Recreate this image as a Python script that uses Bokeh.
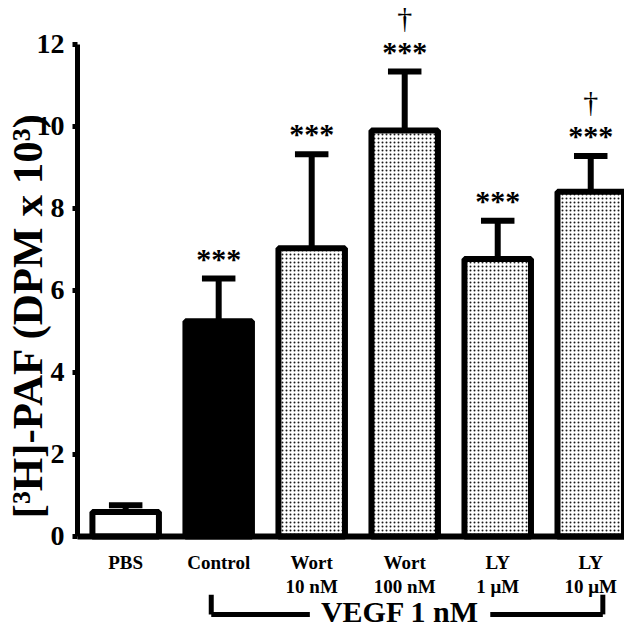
from bokeh.plotting import figure
from bokeh.models import LinearAxis, FixedTicker, Range1d
from bokeh.core.properties import value
from bokeh.embed import file_html
from bokeh.resources import INLINE

# ---- data ----
categories = ["PBS", "Control", "Wort\n10 nM", "Wort\n100 nM", "LY\n1 \u03bcM", "LY\n10 \u03bcM"]
means = [0.60, 5.25, 7.03, 9.90, 6.77, 8.41]
sems = [0.16, 1.04, 2.29, 1.44, 0.93, 0.87]
stars = ["", "***", "***", "***", "***", "***"]
daggers = ["", "", "", "\u2020", "", "\u2020"]
fills = ["white", "black", "dots", "dots", "dots", "dots"]
y_ticks = [0, 2, 4, 6, 8, 10, 12]
group_label = "VEGF 1 nM"
y_label = "[\u00b3H]-PAF (DPM x 10\u00b3)"

FONT = "Liberation Serif"
xs = list(range(len(categories)))

p = figure(width=624, height=630, output_backend="svg", toolbar_location=None,
           x_axis_type=None, y_axis_type=None,
           x_range=Range1d(-0.518, 5.363), y_range=Range1d(-2.293, 13.073),
           min_border=0, min_border_left=73)
p.outline_line_color = None
p.xgrid.visible = False
p.ygrid.visible = False
p.background_fill_color = "white"
p.border_fill_color = "white"

yaxis = LinearAxis(bounds=(0, 12), ticker=FixedTicker(ticks=y_ticks))
yaxis.axis_line_width = 5
yaxis.axis_line_color = "black"
yaxis.major_tick_line_width = 5
yaxis.major_tick_line_color = "black"
yaxis.major_tick_out = 5
yaxis.major_tick_in = 0
yaxis.minor_tick_line_color = None
yaxis.major_label_text_font = FONT
yaxis.major_label_text_font_style = "bold"
yaxis.major_label_text_font_size = "28px"
yaxis.major_label_text_color = "black"
yaxis.major_label_standoff = 8
yaxis.axis_label = y_label
yaxis.axis_label_text_font = FONT
yaxis.axis_label_text_font_style = "bold"
yaxis.axis_label_text_font_size = "43px"
yaxis.axis_label_text_color = "black"
yaxis.axis_label_standoff = -17
p.add_layout(yaxis, "left")

# error bars (drawn under bars)
tops = [m + s for m, s in zip(means, sems)]
p.segment(x0=xs, y0=means, x1=xs, y1=tops, line_width=6, line_color="black", line_cap="butt")
p.segment(x0=[x - 0.18 for x in xs], y0=tops, x1=[x + 0.18 for x in xs], y1=tops,
          line_width=6, line_color="black", line_cap="butt")

wx = [x for x, f in zip(xs, fills) if f == "white"]
wt = [m for m, f in zip(means, fills) if f == "white"]
bx = [x for x, f in zip(xs, fills) if f == "black"]
bt = [m for m, f in zip(means, fills) if f == "black"]
dx = [x for x, f in zip(xs, fills) if f == "dots"]
dt = [m for m, f in zip(means, fills) if f == "dots"]

p.vbar(x=wx, top=wt, bottom=0, width=0.715, fill_color="white", line_color="black", line_width=6)
p.vbar(x=bx, top=bt, bottom=0, width=0.715, fill_color="black", line_color="black", line_width=6)
p.vbar(x=dx, top=dt, bottom=0, width=0.715, fill_color="white", line_color="black", line_width=6,
       hatch_pattern="dot", hatch_scale=4, hatch_weight=1.6, hatch_color="#1a1a1a")

# x axis line
p.segment(x0=[-0.6], y0=[0], x1=[5.5], y1=[0], line_width=6, line_color="black")

# significance marks
p.text(x=xs, y=[t + 0.5 for t in tops], text=stars, text_font=value(FONT), text_font_style="bold",
       text_font_size="30px", text_align="center", text_baseline="alphabetic", text_color="black")
p.text(x=xs, y=[t + 1.32 for t in tops], text=daggers, text_font=value(FONT),
       text_font_size="30px", text_align="center", text_baseline="alphabetic", text_color="black")

# category labels
p.text(x=xs, y=[-0.37] * len(xs), text=categories, text_font=value(FONT), text_font_style="bold",
       text_font_size="19px", text_align="center", text_baseline="top", text_color="black",
       text_line_height=1.15)

# group bracket
bl, br, by = 0.92, 5.13, -1.90
p.segment(x0=[bl, br, bl, 3.92], y0=[-1.42, -1.42, by, by], x1=[bl, br, 1.98, br], y1=[by, by, by, by],
          line_width=5, line_color="black", line_cap="butt")
p.text(x=[2.95], y=[-1.84], text=[group_label], text_font=value(FONT), text_font_style="bold",
       text_font_size="30px", text_align="center", text_baseline="middle", text_color="black")

open("out.html", "w").write(file_html(p, INLINE))
